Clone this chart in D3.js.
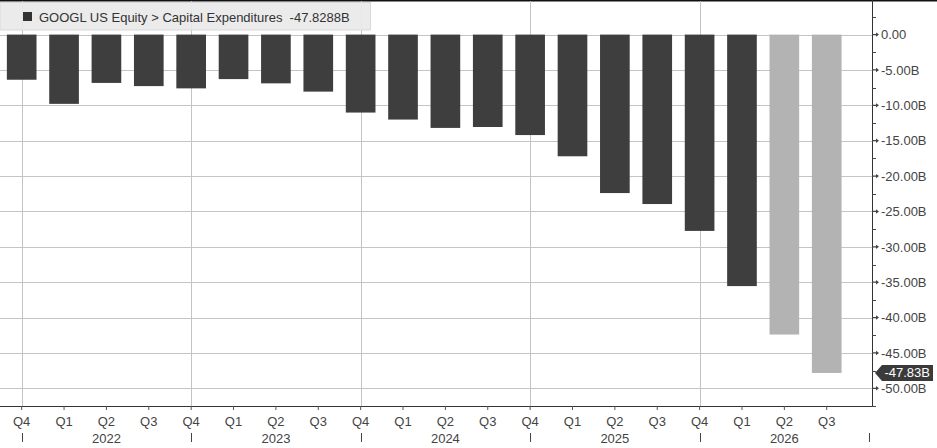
<!DOCTYPE html>
<html>
<head>
<meta charset="utf-8">
<script src="https://cdn.jsdelivr.net/npm/d3@7"></script>
<style>
  html, body { margin: 0; padding: 0; background: #fff; }
  svg { display: block; font-family: "Liberation Sans", Arial, sans-serif; }
</style>
</head>
<body>
<svg id="chart" width="937" height="448"></svg>
<script>
// ---- data ----
const categories = ["Q4 2021","Q1 2022","Q2 2022","Q3 2022","Q4 2022","Q1 2023","Q2 2023","Q3 2023",
  "Q4 2023","Q1 2024","Q2 2024","Q3 2024","Q4 2024","Q1 2025","Q2 2025","Q3 2025","Q4 2025",
  "Q1 2026","Q2 2026","Q3 2026"];
const quarterLabels = ["Q4","Q1","Q2","Q3","Q4","Q1","Q2","Q3","Q4","Q1","Q2","Q3","Q4","Q1","Q2","Q3","Q4","Q1","Q2","Q3"];
const capex = [-6.38,-9.79,-6.83,-7.28,-7.60,-6.29,-6.89,-8.06,-11.02,-12.01,-13.19,-13.06,-14.20,-17.20,-22.40,-23.95,-27.75,-35.55,-42.40,-47.83];
const isEstimate = [false,false,false,false,false,false,false,false,false,false,false,false,false,false,false,false,false,false,true,true];
const yearLabels = ["2022","2023","2024","2025","2026"];
const yearStartIndex = [0,4,8,12,16]; // separators at these Q4 indices, last one at 20
const yTickValues = [0,-5,-10,-15,-20,-25,-30,-35,-40,-45,-50];
const yMinorValues = [2.5,-2.5,-7.5,-12.5,-17.5,-22.5,-27.5,-32.5,-37.5,-42.5,-47.5,-52.5];
const legendText = "GOOGL US Equity > Capital Expenditures  -47.8288B";
const lastLabel = "-47.83B";

// ---- layout ----
const svg = d3.select("#chart");
const plotLeft = 0, plotRight = 872, plotTop = 1, plotBottom = 406;
const step = 42.37;
const x = d3.scaleBand()
  .domain(d3.range(categories.length))
  .range([0.5, 0.5 + step * categories.length])
  .paddingInner(0.3).paddingOuter(0.15);
const xc = i => x(i) + x.bandwidth() / 2;
const xSep = i => 0.5 + step * (i + 0.5);

const y = d3.scaleLinear().domain([-52.5, 4.75]).range([plotBottom, plotTop]);

const gridColor = "#c4c4c4";
const textColor = "#444";

// top border
svg.append("rect").attr("x", 0).attr("y", 0).attr("width", 937).attr("height", 1.5).attr("fill", "#111");

// horizontal grid
svg.append("g").selectAll("line").data(yTickValues).join("line")
  .attr("x1", plotLeft).attr("x2", plotRight)
  .attr("y1", d => Math.round(y(d)) + 0.5).attr("y2", d => Math.round(y(d)) + 0.5)
  .attr("stroke", gridColor).attr("stroke-width", 1);

// vertical grid at year separators
const seps = yearStartIndex.concat([20]);
svg.append("g").selectAll("line").data(yearStartIndex).join("line")
  .attr("x1", d => Math.round(xSep(d)) + 0.5).attr("x2", d => Math.round(xSep(d)) + 0.5)
  .attr("y1", plotTop).attr("y2", plotBottom)
  .attr("stroke", gridColor).attr("stroke-width", 1);

// bars
svg.append("g").selectAll("rect").data(capex).join("rect")
  .attr("x", (d, i) => x(i))
  .attr("width", x.bandwidth())
  .attr("y", d => y(0))
  .attr("height", d => y(d) - y(0))
  .attr("fill", (d, i) => isEstimate[i] ? "#b3b3b3" : "#3e3e3e");

// legend box
const lg = svg.append("g");
lg.append("rect").attr("x", 0).attr("y", 2.5).attr("width", 370.5).attr("height", 27.5)
  .attr("fill", "#e9e9e9").attr("fill-opacity", 0.92).attr("stroke", "#d9d9d9");
lg.append("rect").attr("x", 23).attr("y", 12).attr("width", 9).attr("height", 9).attr("fill", "#333");
lg.append("text").attr("x", 39).attr("y", 21.5).attr("font-size", 13).attr("fill", "#333")
  .attr("xml:space", "preserve").style("white-space", "pre").text(legendText);

// x axis
svg.append("line").attr("x1", 0).attr("x2", plotRight).attr("y1", plotBottom + 0.5).attr("y2", plotBottom + 0.5)
  .attr("stroke", "#333").attr("stroke-width", 1.2);
const xAxis = d3.axisBottom(x).tickSize(4).tickPadding(6).tickFormat(i => quarterLabels[i]);
const gx = svg.append("g").attr("transform", `translate(0,${plotBottom})`).call(xAxis);
gx.select(".domain").remove();
gx.selectAll(".tick line").attr("stroke", "#555");
gx.selectAll(".tick text").attr("font-size", 13).attr("fill", textColor)
  .attr("font-family", "Liberation Sans, Arial, sans-serif").attr("y", 0).attr("dy", 0)
  .attr("transform", "translate(0,19.5)");

// year separators and labels
svg.append("g").selectAll("line").data(seps).join("line")
  .attr("x1", d => Math.round(xSep(d)) + 0.5).attr("x2", d => Math.round(xSep(d)) + 0.5)
  .attr("y1", 433).attr("y2", 442)
  .attr("stroke", "#444").attr("stroke-width", 1);
svg.append("g").selectAll("text").data(yearLabels).join("text")
  .attr("x", (d, i) => (xSep(seps[i]) + xSep(seps[i + 1])) / 2)
  .attr("y", 442.5).attr("text-anchor", "middle").attr("font-size", 13).attr("fill", textColor)
  .text(d => d);

// right axis
svg.append("line").attr("x1", plotRight + 0.5).attr("x2", plotRight + 0.5).attr("y1", 0).attr("y2", plotBottom + 1)
  .attr("stroke", "#333").attr("stroke-width", 1);
const fmt = v => v === 0 ? "0.00" : d3.format(".2f")(v).replace("\u2212", "-") + "B";
const yAxis = d3.axisRight(y).tickValues(yTickValues).tickSize(0).tickPadding(9).tickFormat(fmt);
const gy = svg.append("g").attr("transform", `translate(${plotRight},0)`).call(yAxis);
gy.select(".domain").remove();
gy.selectAll(".tick text").attr("font-size", 13).attr("fill", textColor)
  .attr("font-family", "Liberation Sans, Arial, sans-serif");
// major tick markers (small arrows)
svg.append("g").selectAll("path").data(yTickValues).join("path")
  .attr("d", d => { const yy = y(d); return `M${plotRight},${yy - 0.6}L${plotRight + 4},${yy - 0.6}L${plotRight + 4},${yy - 2.2}L${plotRight + 7},${yy}L${plotRight + 4},${yy + 2.2}L${plotRight + 4},${yy + 0.6}L${plotRight},${yy + 0.6}Z`; })
  .attr("fill", "#444");
// minor ticks
svg.append("g").selectAll("line").data(yMinorValues).join("line")
  .attr("x1", plotRight).attr("x2", plotRight + 4)
  .attr("y1", d => Math.round(y(d)) + 0.5).attr("y2", d => Math.round(y(d)) + 0.5)
  .attr("stroke", "#444");

// last value label
const lv = capex[capex.length - 1];
const ly = y(lv);
svg.append("path")
  .attr("d", `M${plotRight + 3},${ly}L${plotRight + 10},${ly - 8}L933,${ly - 8}L933,${ly + 8}L${plotRight + 10},${ly + 8}Z`)
  .attr("fill", "#3a3a3a");
svg.append("text").attr("x", 930).attr("y", ly + 4.5).attr("text-anchor", "end")
  .attr("font-size", 13).attr("fill", "#fff").text(lastLabel);
</script>
</body>
</html>
